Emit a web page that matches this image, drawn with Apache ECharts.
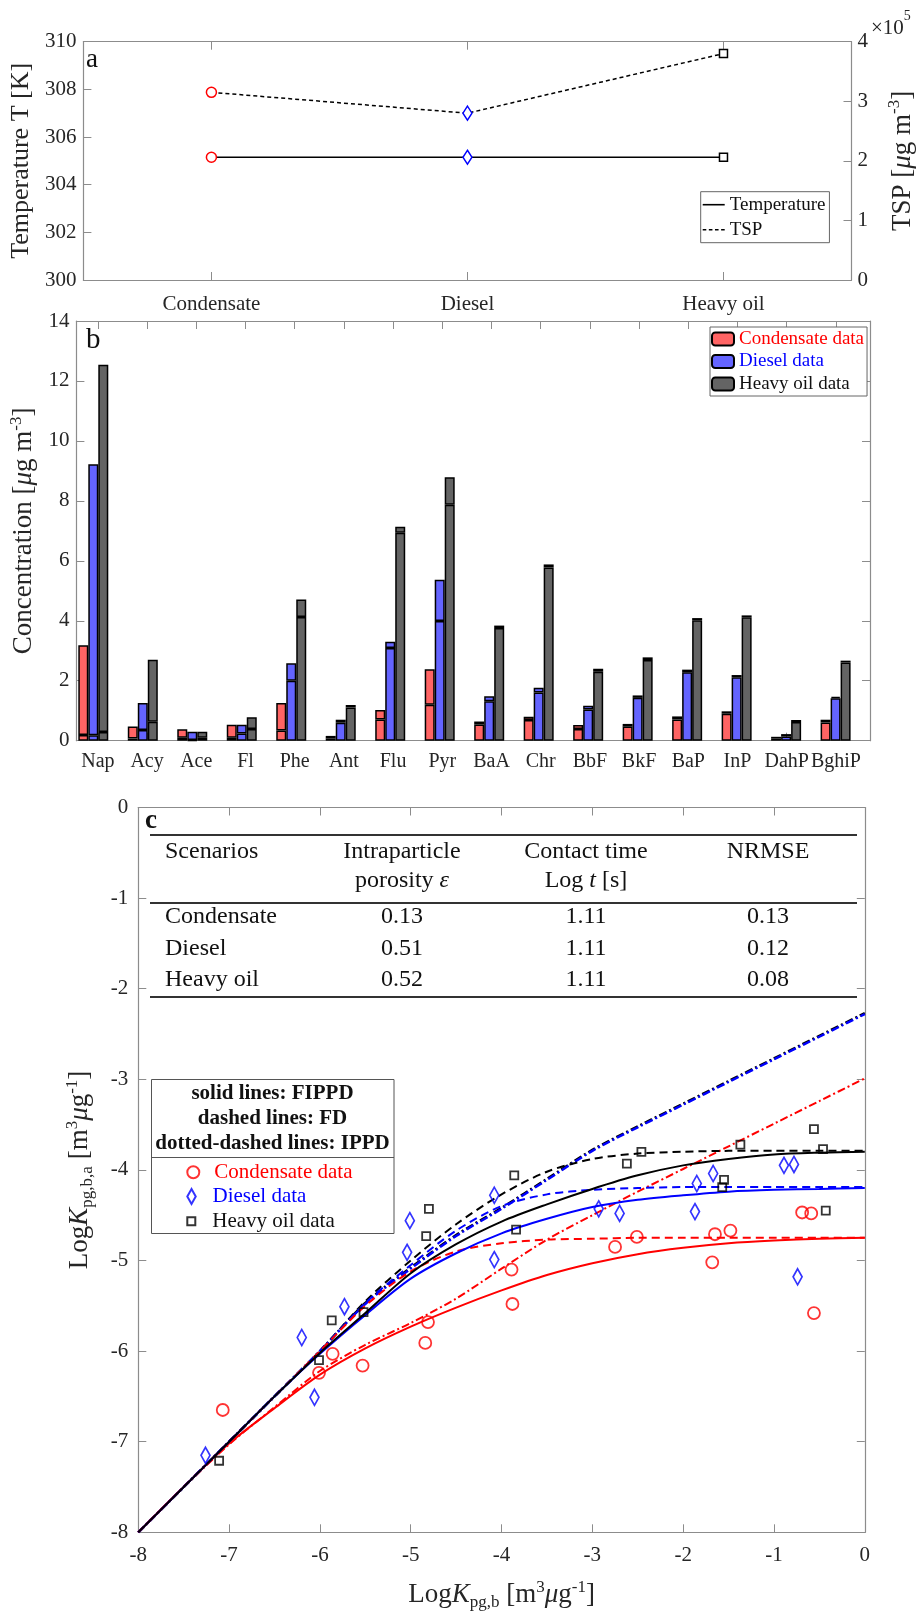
<!DOCTYPE html>
<html><head><meta charset="utf-8">
<script src="https://cdn.jsdelivr.net/npm/echarts@6/dist/echarts.min.js"></script>
<style>html,body{margin:0;padding:0;background:#fff}#c{width:924px;height:1616px}</style>
</head><body><div id="c"></div>
<script>
// ---------- Panel a data ----------
const scenarios = ['Condensate', 'Diesel', 'Heavy oil'];
const temperatureK = [305.15, 305.15, 305.15];
const tspValues = [315000, 280000, 380000];
const markerSymbols = ['circle', 'diamond', 'rect'];
const markerColors = ['#ff0000', '#0000ff', '#000000'];

// ---------- Panel b data ----------
const pahNames = ['Nap','Acy','Ace','Fl','Phe','Ant','Flu','Pyr','BaA','Chr','BbF','BkF','BaP','InP','DahP','BghiP'];
const condTotal   = [3.18,0.47,0.38,0.53,1.26,0.16,1.02,2.38,0.64,0.80,0.52,0.56,0.81,0.98,0.13,0.70];
const condLower   = [0.19,0.07,0.10,0.10,0.34,0.07,0.71,1.20,0.54,0.69,0.39,0.47,0.71,0.90,0.07,0.61];
const dieselTotal = [9.22,1.26,0.30,0.53,2.58,0.70,3.30,5.37,1.48,1.77,1.17,1.51,2.37,2.19,0.22,1.47];
const dieselLower = [0.18,0.36,0.02,0.24,2.00,0.60,3.09,3.99,1.32,1.61,1.04,1.43,2.28,2.12,0.14,1.42];
const heavyTotal  = [12.54,2.70,0.30,0.78,4.71,1.19,7.14,8.79,3.84,5.88,2.40,2.78,4.09,4.18,0.69,2.67];
const heavyLower  = [0.29,0.63,0.10,0.39,4.13,1.11,6.94,7.87,3.76,5.78,2.30,2.69,4.02,4.12,0.62,2.61];

// ---------- Panel c data ----------
const condX   = [-7.07,-6.01,-5.86,-5.53,-4.84,-4.81,-3.89,-3.88,-2.75,-2.51,-1.68,-1.65,-1.48,-0.69,-0.59,-0.56];
const condY   = [-6.65,-6.24,-6.03,-6.16,-5.91,-5.68,-5.10,-5.48,-4.85,-4.74,-5.02,-4.71,-4.67,-4.47,-4.48,-5.58];
const dieselX = [-7.26,-6.20,-6.06,-5.73,-5.01,-5.04,-4.08,-4.08,-2.93,-2.70,-1.87,-1.85,-1.67,-0.89,-0.78,-0.74];
const dieselY = [-7.15,-5.85,-6.51,-5.51,-4.56,-4.91,-4.28,-4.99,-4.43,-4.48,-4.46,-4.15,-4.04,-3.95,-3.94,-5.18];
const heavyX  = [-7.11,-6.01,-5.87,-5.52,-4.83,-4.80,-3.86,-3.84,-2.62,-2.46,-1.57,-1.55,-1.37,-0.56,-0.46,-0.43];
const heavyY  = [-7.21,-6.10,-5.66,-5.57,-4.73,-4.43,-4.06,-4.66,-3.93,-3.80,-4.19,-4.11,-3.72,-3.55,-3.77,-4.45];

const curveX      = [-8,-7.5,-7,-6.5,-6,-5.5,-5,-4.5,-4,-3.5,-3,-2.5,-2,-1.5,-1,-0.5,0];
const heavyFIPPD  = [-8,-7.5,-7.0,-6.5,-6.02,-5.58,-5.14,-4.82,-4.57,-4.38,-4.21,-4.06,-3.95,-3.88,-3.83,-3.81,-3.80];
const dieselFIPPD = [-8,-7.5,-7.0,-6.5,-6.03,-5.60,-5.20,-4.92,-4.70,-4.54,-4.41,-4.33,-4.28,-4.24,-4.22,-4.21,-4.20];
const condFIPPD   = [-8,-7.5,-7.02,-6.63,-6.26,-5.97,-5.73,-5.52,-5.33,-5.16,-5.03,-4.93,-4.86,-4.81,-4.78,-4.76,-4.75];
const heavyFD     = [-8,-7.5,-7,-6.5,-6.0,-5.45,-5.0,-4.60,-4.27,-4.02,-3.88,-3.82,-3.80,-3.79,-3.79,-3.79,-3.79];
const dieselFD    = [-8,-7.5,-7,-6.5,-6.0,-5.47,-5.05,-4.67,-4.40,-4.27,-4.22,-4.20,-4.19,-4.19,-4.19,-4.19,-4.19];
const condFD      = [-8,-7.5,-7,-6.5,-6.0,-5.50,-5.12,-4.90,-4.81,-4.77,-4.76,-4.75,-4.75,-4.75,-4.75,-4.75,-4.75];
const heavyIPPD   = [-8,-7.5,-7,-6.5,-6.0,-5.47,-5.08,-4.72,-4.42,-4.10,-3.78,-3.52,-3.27,-3.02,-2.77,-2.52,-2.27];
const dieselIPPD  = [-8,-7.5,-7,-6.5,-6.0,-5.48,-5.09,-4.73,-4.43,-4.11,-3.79,-3.53,-3.28,-3.03,-2.78,-2.53,-2.28];
const condIPPD    = [-8,-7.5,-7.03,-6.62,-6.22,-5.93,-5.69,-5.42,-5.09,-4.77,-4.50,-4.24,-3.99,-3.74,-3.49,-3.24,-2.99];

// table
const tableHeader1 = ['Scenarios', 'Intraparticle', 'Contact time', 'NRMSE'];
const tablePorosity = ['0.13', '0.51', '0.52'];
const tableContact = ['1.11', '1.11', '1.11'];
const tableNRMSE = ['0.13', '0.12', '0.08'];

// ---------- styling ----------
const FONT = '"Liberation Serif","Times New Roman",serif';
const axisGray = '#8c8c8c';
const labelColor = '#262626';
const tickCfg = { show: true, inside: true, length: 8, lineStyle: { color: axisGray, width: 1 } };
const lineCfg = { show: true, onZero: false, lineStyle: { color: axisGray, width: 1.2 } };
const lbl = (m) => ({ color: labelColor, fontFamily: FONT, fontSize: 21, margin: m });
const richName = (size) => ({
  n: { fontFamily: FONT, fontSize: size, color: labelColor, lineHeight: 32, verticalAlign: 'middle' },
  i: { fontFamily: FONT, fontSize: size, fontStyle: 'italic', color: labelColor, lineHeight: 32, verticalAlign: 'middle' },
  sup: { fontFamily: FONT, fontSize: Math.round(size * 0.62), color: labelColor, lineHeight: 14, verticalAlign: 'top' },
  sub: { fontFamily: FONT, fontSize: Math.round(size * 0.62), color: labelColor, lineHeight: 14, verticalAlign: 'bottom' }
});
const nameStyle = (size) => ({ fontFamily: FONT, fontSize: size, color: labelColor, rich: richName(size) });
const NAME_SIZE = 27;

const pahPositions = pahNames.map((_, i) => i + 1);

// ---------- series ----------
const series = [];

// panel a
series.push({
  type: 'line', name: 'Temperature', xAxisIndex: 0, yAxisIndex: 0, symbol: 'none',
  lineStyle: { color: '#000', width: 1.5 }, itemStyle: { color: '#000' },
  data: temperatureK.map((v, i) => ({
    value: v, symbol: markerSymbols[i], symbolSize: i === 1 ? [9, 14] : (i === 0 ? 10 : 8),
    itemStyle: { color: '#fff', borderColor: markerColors[i], borderWidth: 1.5 }
  })),
  z: 3
});
series.push({
  type: 'line', name: 'TSP', xAxisIndex: 0, yAxisIndex: 1, symbol: 'none',
  lineStyle: { color: '#000', width: 1.5, type: [4, 3] }, itemStyle: { color: '#000' },
  data: tspValues.map((v, i) => ({
    value: v, symbol: markerSymbols[i], symbolSize: i === 1 ? [9, 14] : (i === 0 ? 10 : 8),
    itemStyle: { color: '#fff', borderColor: markerColors[i], borderWidth: 1.5 }
  })),
  z: 3
});

// panel b
const barGroups = [
  { name: 'Condensate data', lower: condLower, total: condTotal, color: '#ff6464' },
  { name: 'Diesel data', lower: dieselLower, total: dieselTotal, color: '#6464ff' },
  { name: 'Heavy oil data', lower: heavyLower, total: heavyTotal, color: '#646464' }
];
barGroups.forEach((g, k) => {
  const st = { color: g.color, borderColor: '#000', borderWidth: 1.5 };
  series.push({ type: 'bar', name: g.name, xAxisIndex: 6, yAxisIndex: 6, stack: 's' + k,
    barWidth: 10, barGap: '0%', itemStyle: st, data: g.lower });
  series.push({ type: 'bar', name: g.name + ' (upper)', xAxisIndex: 6, yAxisIndex: 6, stack: 's' + k,
    barWidth: 10, barGap: '0%', itemStyle: st,
    data: g.total.map((v, i) => +(v - g.lower[i]).toFixed(3)) });
});

// panel c curves
const pair = (ys) => curveX.map((x, i) => [x, ys[i]]);
const curve = (name, ys, color, type, width) => ({
  type: 'line', name, xAxisIndex: 4, yAxisIndex: 4, data: pair(ys), symbol: 'none',
  smooth: 0.3, lineStyle: { color, width, type }, z: 2, silent: true
});
const dashDot = [8, 3, 2, 3];
series.push(curve('IPPD heavy', heavyIPPD, '#000', dashDot, 2.6));
series.push(curve('IPPD diesel', dieselIPPD, '#0000ff', dashDot, 2.4));
series.push(curve('IPPD cond', condIPPD, '#ff0000', dashDot, 2));
series.push(curve('FD heavy', heavyFD, '#000', [8, 5], 2));
series.push(curve('FD diesel', dieselFD, '#0000ff', [8, 5], 2));
series.push(curve('FD cond', condFD, '#ff0000', [8, 5], 2));
series.push(curve('FIPPD cond', condFIPPD, '#ff0000', 'solid', 2));
series.push(curve('FIPPD diesel', dieselFIPPD, '#0000ff', 'solid', 2));
series.push(curve('FIPPD heavy', heavyFIPPD, '#000', 'solid', 2));

const scatter = (name, xs, ys, symbol, size, color) => ({
  type: 'scatter', name, xAxisIndex: 4, yAxisIndex: 4, symbol, symbolSize: size,
  data: xs.map((x, i) => [x, ys[i]]),
  itemStyle: { color: 'rgba(255,255,255,0)', borderColor: color, borderWidth: 1.8 }, z: 5
});
series.push(scatter('c:Condensate data', condX, condY, 'circle', 12, '#ff0000'));
series.push(scatter('c:Diesel data', dieselX, dieselY, 'diamond', [9, 16], '#0000ff'));
series.push(scatter('c:Heavy oil data', heavyX, heavyY, 'rect', 8, '#000'));

// ---------- graphics ----------
const G = [];
const txt = (x, y, text, o) => G.push(Object.assign({ type: 'text', x, y, z: 30, style: Object.assign({
  text, fontFamily: FONT, fontSize: 24, fill: '#111', align: 'left', verticalAlign: 'middle' }, o || {}) }));
txt(86, 60, 'a', { fontSize: 27 });
txt(86, 340, 'b', { fontSize: 29 });
txt(145, 821, 'c', { fontSize: 27, fontWeight: 'bold' });
// x10^5
G.push({ type: 'text', x: 871, y: 24, z: 30, style: { text: '{a|×10}{s|5}', fontFamily: FONT, fontSize: 21, fill: labelColor,
  align: 'left', verticalAlign: 'middle',
  rich: { a: { fontFamily: FONT, fontSize: 21, fill: labelColor, lineHeight: 30, verticalAlign: 'bottom' },
          s: { fontFamily: FONT, fontSize: 14, fill: labelColor, lineHeight: 14, verticalAlign: 'top' } } } });

// table in panel c
const tl = (y) => G.push({ type: 'line', z: 30, shape: { x1: 150, y1: y, x2: 857, y2: y }, style: { stroke: '#333', lineWidth: 2.2 } });
tl(835); tl(903); tl(997);
const colX = [165, 402, 586, 768];
txt(colX[0], 852, tableHeader1[0]);
txt(colX[1], 852, tableHeader1[1], { align: 'center' });
txt(colX[2], 852, tableHeader1[2], { align: 'center' });
txt(colX[3], 852, tableHeader1[3], { align: 'center' });
G.push({ type: 'text', x: colX[1], y: 881, z: 30, style: { text: '{n|porosity }{i|ε}', align: 'center', verticalAlign: 'middle',
  rich: { n: { fontFamily: FONT, fontSize: 24, fill: '#111' }, i: { fontFamily: FONT, fontSize: 24, fontStyle: 'italic', fill: '#111' } } } });
G.push({ type: 'text', x: colX[2], y: 881, z: 30, style: { text: '{n|Log }{i|t}{n| [s]}', align: 'center', verticalAlign: 'middle',
  rich: { n: { fontFamily: FONT, fontSize: 24, fill: '#111' }, i: { fontFamily: FONT, fontSize: 24, fontStyle: 'italic', fill: '#111' } } } });
const rowY = [917, 948.5, 980];
scenarios.forEach((s, r) => {
  txt(colX[0], rowY[r], s);
  txt(colX[1], rowY[r], tablePorosity[r], { align: 'center' });
  txt(colX[2], rowY[r], tableContact[r], { align: 'center' });
  txt(colX[3], rowY[r], tableNRMSE[r], { align: 'center' });
});

// legend box in panel c
G.push({ type: 'rect', z: 10, shape: { x: 151.5, y: 1079.5, width: 242.5, height: 154 }, style: { fill: '#fff', stroke: '#555', lineWidth: 1 } });
G.push({ type: 'line', z: 11, shape: { x1: 151.5, y1: 1157.5, x2: 394, y2: 1157.5 }, style: { stroke: '#555', lineWidth: 1 } });
txt(272.5, 1094, 'solid lines: FIPPD', { align: 'center', fontSize: 21, fontWeight: 'bold' });
txt(272.5, 1119, 'dashed lines: FD', { align: 'center', fontSize: 21, fontWeight: 'bold' });
txt(272.5, 1144, 'dotted-dashed lines: IPPD', { align: 'center', fontSize: 21, fontWeight: 'bold' });

// panel c data legend: one legend component per row so each icon keeps its own size
const cLegendRows = [
  { name: 'c:Condensate data', color: '#ff0000', icon: 'circle', h: 12, y: 1171.7 },
  { name: 'c:Diesel data', color: '#0000ff', icon: 'path://M4.5,0L9,8L4.5,16L0,8Z', h: 15, y: 1196 },
  { name: 'c:Heavy oil data', color: '#111', icon: 'path://M0,0H8V8H0Z', h: 8, y: 1220.7 }
];
const cLegends = cLegendRows.map((r) => ({
  left: 186.3, top: r.y - 10, orient: 'vertical', itemWidth: 32, itemHeight: r.h, padding: 0,
  data: [{ name: r.name, icon: r.icon, textStyle: { color: r.color } }],
  formatter: (n) => n.replace('c:', ''),
  textStyle: { fontFamily: FONT, fontSize: 21, lineHeight: 20 }, selectedMode: false, z: 20
}));

// ---------- option ----------
const option = {
  animation: false,
  backgroundColor: '#fff',
  grid: [
    { left: 74, top: 41.7, width: 795.3, height: 238.3 },
    { left: 71.7, top: 321, width: 798.3, height: 419.7 },
    { left: 138.3, top: 807.5, width: 726.5, height: 724.8 },
    { left: 68.55, top: 321, width: 791.8, height: 419.7 }
  ],
  xAxis: [
    { type: 'category', gridIndex: 0, data: scenarios, position: 'bottom', axisLine: lineCfg,
      axisTick: Object.assign({ alignWithLabel: true }, tickCfg), axisLabel: lbl(14), splitLine: { show: false } },
    { type: 'category', gridIndex: 0, data: scenarios, position: 'top', axisLine: lineCfg,
      axisTick: Object.assign({ alignWithLabel: true }, tickCfg), axisLabel: { show: false }, splitLine: { show: false } },
    { type: 'value', gridIndex: 1, min: 0.5636, max: 16.693, position: 'bottom', axisLine: lineCfg,
      axisTick: Object.assign({ customValues: pahPositions }, tickCfg),
      axisLabel: Object.assign(lbl(11), { fontSize: 20, customValues: pahPositions, hideOverlap: false,
        formatter: (v) => pahNames[Math.round(v) - 1] || '' }),
      splitLine: { show: false } },
    { type: 'value', gridIndex: 1, min: 0.5636, max: 16.693, position: 'top', axisLine: lineCfg,
      axisTick: Object.assign({ customValues: pahPositions }, tickCfg), axisLabel: { show: false }, splitLine: { show: false } },
    { type: 'value', gridIndex: 2, min: -8, max: 0, interval: 1, position: 'bottom', axisLine: lineCfg,
      axisTick: tickCfg, axisLabel: lbl(13), splitLine: { show: false },
      name: '{n|Log}{i|K}{sub|pg,b}{n| [m}{sup|3}{i|μ}{n|g}{sup|-1}{n|]}', nameLocation: 'middle', nameGap: 47,
      nameTextStyle: nameStyle(NAME_SIZE) },
    { type: 'value', gridIndex: 2, min: -8, max: 0, interval: 1, position: 'top', axisLine: lineCfg,
      axisTick: tickCfg, axisLabel: { show: false }, splitLine: { show: false } },
    { type: 'category', gridIndex: 3, data: pahNames, show: false }
  ],
  yAxis: [
    { type: 'value', gridIndex: 0, min: 300, max: 310, interval: 2, position: 'left', axisLine: lineCfg,
      axisTick: tickCfg, axisLabel: lbl(7), splitLine: { show: false },
      name: '{n|Temperature T [K]}', nameLocation: 'middle', nameRotate: 90, nameGap: 33, nameTextStyle: nameStyle(NAME_SIZE - 1) },
    { type: 'value', gridIndex: 0, min: 0, max: 400000, interval: 100000, position: 'right', axisLine: lineCfg,
      axisTick: tickCfg, axisLabel: Object.assign(lbl(6), { formatter: (v) => String(v / 100000) }), splitLine: { show: false },
      name: '{n|TSP [}{i|μ}{n|g m}{sup|-3}{n|]}', nameLocation: 'middle', nameRotate: 90, nameGap: 35, nameTextStyle: nameStyle(NAME_SIZE) },
    { type: 'value', gridIndex: 1, min: 0, max: 14, interval: 2, position: 'left', axisLine: lineCfg,
      axisTick: tickCfg, axisLabel: lbl(7), splitLine: { show: false },
      name: '{n|Concentration [}{i|μ}{n|g m}{sup|-3}{n|]}', nameLocation: 'middle', nameRotate: 90, nameGap: 17, nameTextStyle: nameStyle(NAME_SIZE) },
    { type: 'value', gridIndex: 1, min: 0, max: 14, interval: 2, position: 'right', axisLine: lineCfg,
      axisTick: tickCfg, axisLabel: { show: false }, splitLine: { show: false } },
    { type: 'value', gridIndex: 2, min: -8, max: 0, interval: 1, position: 'left', axisLine: lineCfg,
      axisTick: tickCfg, axisLabel: lbl(10), splitLine: { show: false },
      name: '{n|Log}{i|K}{sub|pg,b,a}{n| [m}{sup|3}{i|μ}{n|g}{sup|-1}{n|]}', nameLocation: 'middle', nameRotate: 90, nameGap: 42,
      nameTextStyle: nameStyle(NAME_SIZE) },
    { type: 'value', gridIndex: 2, min: -8, max: 0, interval: 1, position: 'right', axisLine: lineCfg,
      axisTick: tickCfg, axisLabel: { show: false }, splitLine: { show: false } },
    { type: 'value', gridIndex: 3, min: 0, max: 14, show: false, splitLine: { show: false } }
  ],
  legend: [
    { left: 700.7, top: 191.7, orient: 'vertical', itemWidth: 22, itemHeight: 10,
      data: [
        { name: 'Temperature', icon: 'path://M0,0H22V1.6H0Z' },
        { name: 'TSP', icon: 'path://M0,0H3.5V1.6H0Z M6,0H9.5V1.6H6Z M12,0H15.5V1.6H12Z M18,0H21.5V1.6H18Z' }
      ],
      itemGap: 5, padding: [3, 4, 3, 2], borderColor: '#666', borderWidth: 1, backgroundColor: '#fff',
      textStyle: { fontFamily: FONT, fontSize: 19, color: '#111', lineHeight: 20 }, selectedMode: false, z: 20 },
    { left: 710, top: 327, orient: 'vertical', itemWidth: 22, itemHeight: 13, itemGap: 2.5,
      padding: [2, 3, 2, 1], borderColor: '#666', borderWidth: 1, backgroundColor: '#fff',
      data: [
        { name: 'Condensate data', textStyle: { color: '#ff0000' } },
        { name: 'Diesel data', textStyle: { color: '#0000ff' } },
        { name: 'Heavy oil data', textStyle: { color: '#111' } }
      ],
      textStyle: { fontFamily: FONT, fontSize: 19, lineHeight: 20 }, selectedMode: false, z: 20 }
  ].concat(cLegends),
  series,
  graphic: { elements: G }
};

const chart = echarts.init(document.getElementById('c'), null, { renderer: 'canvas' });
chart.setOption(option);
</script>
</body></html>
